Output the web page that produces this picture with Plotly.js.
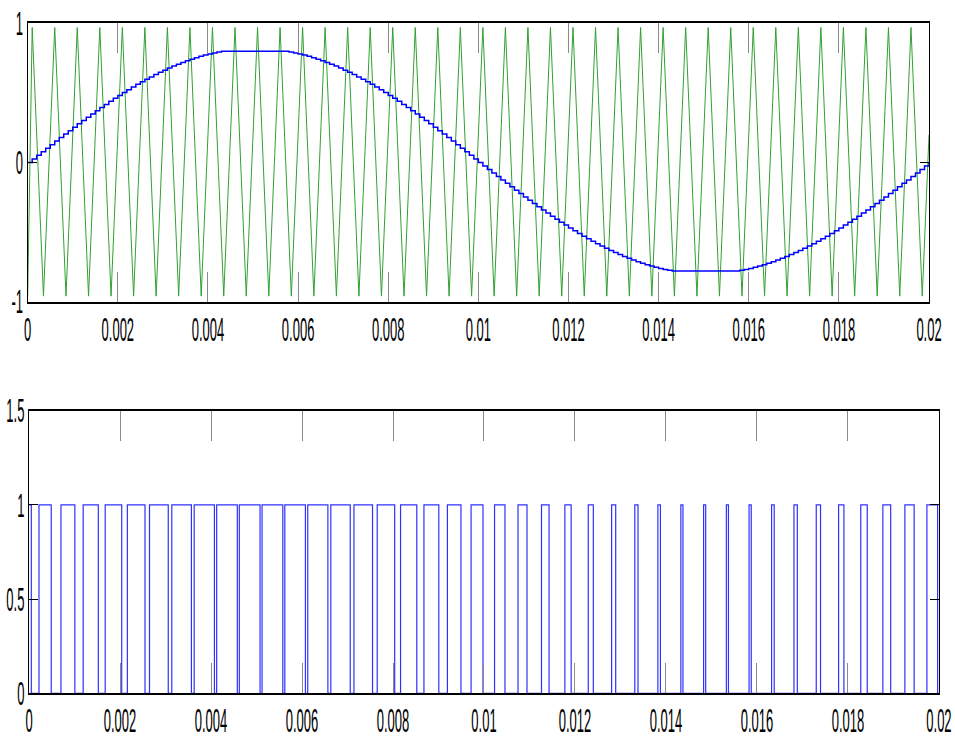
<!DOCTYPE html>
<html>
<head>
<meta charset="utf-8">
<script src="https://cdn.plot.ly/plotly-3.0.1.min.js"></script>
<style>
html,body{margin:0;padding:0;background:#fff;}
#chart{width:955px;height:742px;}
</style>
</head>
<body>
<div id="chart"></div>
<script>
// ---------- data ----------
// modulating (sampled, zero-order-hold) signal, one value per sample step
const sampleStep = 0.0001;
const modY = [
 0, 0.0258, 0.0515, 0.0772, 0.1028, 0.1283, 0.1537, 0.1789, 0.2039, 0.2288,
 0.2534, 0.2778, 0.3019, 0.3257, 0.3491, 0.3723, 0.3950, 0.4174, 0.4394, 0.4609,
 0.4820, 0.5026, 0.5227, 0.5423, 0.5613, 0.5798, 0.5978, 0.6151, 0.6318, 0.6479,
 0.6634, 0.6782, 0.6924, 0.7058, 0.7186, 0.7306, 0.7420, 0.7526, 0.7624, 0.7715,
 0.7799, 0.7874, 0.7942, 0.80, 0.80, 0.80, 0.80, 0.80, 0.80, 0.80,
 0.80, 0.80, 0.80, 0.80, 0.80, 0.80, 0.80, 0.80, 0.7942, 0.7874,
 0.7799, 0.7715, 0.7624, 0.7526, 0.7420, 0.7306, 0.7186, 0.7058, 0.6924, 0.6782,
 0.6634, 0.6479, 0.6318, 0.6151, 0.5978, 0.5798, 0.5613, 0.5423, 0.5227, 0.5026,
 0.4820, 0.4609, 0.4394, 0.4174, 0.3950, 0.3723, 0.3491, 0.3257, 0.3019, 0.2778,
 0.2534, 0.2288, 0.2039, 0.1789, 0.1537, 0.1283, 0.1028, 0.0772, 0.0515, 0.0258,
 0, -0.0251, -0.0502, -0.0753, -0.1003, -0.1251, -0.1499, -0.1745, -0.1990, -0.2232,
 -0.2472, -0.2710, -0.2945, -0.3177, -0.3406, -0.3632, -0.3854, -0.4072, -0.4287, -0.4497,
 -0.4702, -0.4903, -0.5099, -0.5290, -0.5476, -0.5657, -0.5832, -0.6001, -0.6164, -0.6321,
 -0.6472, -0.6617, -0.6755, -0.6886, -0.7010, -0.7128, -0.7239, -0.7342, -0.7438, -0.7527,
 -0.7608, -0.7682, -0.7749, -0.78, -0.78, -0.78, -0.78, -0.78, -0.78, -0.78,
 -0.78, -0.78, -0.78, -0.78, -0.78, -0.78, -0.78, -0.78, -0.7749, -0.7682,
 -0.7608, -0.7527, -0.7438, -0.7342, -0.7239, -0.7128, -0.7010, -0.6886, -0.6755, -0.6617,
 -0.6472, -0.6321, -0.6164, -0.6001, -0.5832, -0.5657, -0.5476, -0.5290, -0.5099, -0.4903,
 -0.4702, -0.4497, -0.4287, -0.4072, -0.3854, -0.3632, -0.3406, -0.3177, -0.2945, -0.2710,
 -0.2472, -0.2232, -0.1990, -0.1745, -0.1499, -0.1251, -0.1003, -0.0753, -0.0502, -0.0251,
 0
];

// triangular carrier: vertex times and values
const carrierT = [
 0, 0.0001, 0.00035, 0.0006, 0.00085, 0.0011, 0.00135, 0.0016, 0.00185, 0.0021, 0.00235,
 0.0026, 0.00285, 0.0031, 0.00335, 0.0036, 0.00385, 0.0041, 0.00435, 0.0046, 0.00485,
 0.0051, 0.00535, 0.0056, 0.00585, 0.0061, 0.00635, 0.0066, 0.00685, 0.0071, 0.00735,
 0.0076, 0.00785, 0.0081, 0.00835, 0.0086, 0.00885, 0.0091, 0.00935, 0.0096, 0.00985,
 0.0101, 0.01035, 0.0106, 0.01085, 0.0111, 0.01135, 0.0116, 0.01185, 0.0121, 0.01235,
 0.0126, 0.01285, 0.0131, 0.01335, 0.0136, 0.01385, 0.0141, 0.01435, 0.0146, 0.01485,
 0.0151, 0.01535, 0.0156, 0.01585, 0.0161, 0.01635, 0.0166, 0.01685, 0.0171, 0.01735,
 0.0176, 0.01785, 0.0181, 0.01835, 0.0186, 0.01885, 0.0191, 0.01935, 0.0196, 0.01985,
 0.02
];
const carrierY = [
 -0.96, 0.97, -0.96, 0.97, -0.96, 0.97, -0.96, 0.97, -0.96, 0.97, -0.96,
 0.97, -0.96, 0.97, -0.96, 0.97, -0.96, 0.97, -0.96, 0.97, -0.96,
 0.97, -0.96, 0.97, -0.96, 0.97, -0.96, 0.97, -0.96, 0.97, -0.96,
 0.97, -0.96, 0.97, -0.96, 0.97, -0.96, 0.97, -0.96, 0.97, -0.96,
 0.97, -0.96, 0.97, -0.96, 0.97, -0.96, 0.97, -0.96, 0.97, -0.96,
 0.97, -0.96, 0.97, -0.96, 0.97, -0.96, 0.97, -0.96, 0.97, -0.96,
 0.97, -0.96, 0.97, -0.96, 0.97, -0.96, 0.97, -0.96, 0.97, -0.96,
 0.97, -0.96, 0.97, -0.96, 0.97, -0.96, 0.97, -0.96, 0.97, -0.96,
 0.2
];

// PWM output: switching instants and levels
const pwmT = [
 0, 0.00005,
 0.000219, 0.000488, 0.000702, 0.001007, 0.001190, 0.001523, 0.001674, 0.002037,
 0.002161, 0.002549, 0.002648, 0.003060, 0.003138, 0.003569, 0.003630, 0.004075,
 0.004124, 0.004578, 0.004622, 0.005078, 0.005122, 0.005578, 0.005622, 0.006075,
 0.006126, 0.006569, 0.006633, 0.007060, 0.007142, 0.007550, 0.007653, 0.008037,
 0.008166, 0.008523, 0.008680, 0.009007, 0.009196, 0.009494, 0.009716, 0.009978,
 0.010232, 0.010461, 0.010748, 0.010945, 0.011264, 0.011430, 0.011778, 0.011916,
 0.012292, 0.012403, 0.012805, 0.012895, 0.013315, 0.013385, 0.013822, 0.013878,
 0.014327, 0.014373, 0.014827, 0.014873, 0.015327, 0.015373, 0.015826, 0.015874,
 0.016321, 0.016379, 0.016813, 0.016887, 0.017303, 0.017397, 0.017794, 0.017911,
 0.018281, 0.018424, 0.018767, 0.018939, 0.019251, 0.019455, 0.019735, 0.019971,
 0.02
];
const pwmY = [
 1, 0,
 1, 0, 1, 0, 1, 0, 1, 0,
 1, 0, 1, 0, 1, 0, 1, 0,
 1, 0, 1, 0, 1, 0, 1, 0,
 1, 0, 1, 0, 1, 0, 1, 0,
 1, 0, 1, 0, 1, 0, 1, 0,
 1, 0, 1, 0, 1, 0, 1, 0,
 1, 0, 1, 0, 1, 0, 1, 0,
 1, 0, 1, 0, 1, 0, 1, 0,
 1, 0, 1, 0, 1, 0, 1, 0,
 1, 0, 1, 0, 1, 0, 1, 0,
 0
];

// ticks
const xTickVals   = [0, 0.002, 0.004, 0.006, 0.008, 0.01, 0.012, 0.014, 0.016, 0.018, 0.02];
const xTickLabels = ['0', '0.002', '0.004', '0.006', '0.008', '0.01', '0.012', '0.014', '0.016', '0.018', '0.02'];
const topYTickVals   = [-1, 0, 1];
const topYTickLabels = ['-1', '0', '1'];
const botYTickVals   = [0, 0.5, 1, 1.5];
const botYTickLabels = ['0', '0.5', '1', '1.5'];

// ---------- chart ----------
const FONT = 'Liberation Sans Narrow, Liberation Sans, Arial, sans-serif';
const tickFont = {family: FONT, size: 13, color: '#000'};

const traces = [
  {x: carrierT, y: carrierY, xaxis: 'x', yaxis: 'y', type: 'scatter', mode: 'lines',
   line: {color: 'rgb(50,160,50)', width: 1}, hoverinfo: 'skip'},
  {y: modY, x0: 0, dx: sampleStep, xaxis: 'x', yaxis: 'y', type: 'scatter', mode: 'lines',
   line: {color: '#0000ff', width: 1.5, shape: 'hv'}, hoverinfo: 'skip'},
  {x: pwmT, y: pwmY, xaxis: 'x2', yaxis: 'y2', type: 'scatter', mode: 'lines',
   line: {color: '#3030ff', width: 1.2, shape: 'hv'}, hoverinfo: 'skip'}
];

function xAxis(domain, anchor, standoff) {
  return {domain: domain, anchor: anchor, range: [0, 0.02], tickmode: 'array',
    tickvals: xTickVals, ticktext: xTickLabels, ticks: 'inside', ticklen: 30,
    tickcolor: '#8a8a8a', tickwidth: 1, showline: true, linecolor: '#000', linewidth: 2,
    mirror: 'allticks', showgrid: false, zeroline: false, tickfont: tickFont,
    ticklabelstandoff: standoff, fixedrange: true};
}
function yAxis(domain, anchor, range, vals, labels) {
  return {domain: domain, anchor: anchor, range: range, tickmode: 'array',
    tickvals: vals, ticktext: labels, ticks: 'inside', ticklen: 9,
    tickcolor: '#000', tickwidth: 1, showline: true, linecolor: '#000', linewidth: 1,
    mirror: 'allticks', showgrid: false, zeroline: false, tickfont: tickFont,
    ticklabelstandoff: 1, fixedrange: true};
}

const layout = {
  width: 955, height: 742,
  margin: {l: 0, r: 0, t: 0, b: 0},
  paper_bgcolor: '#fff', plot_bgcolor: '#fff',
  showlegend: false,
  font: tickFont,
  xaxis: xAxis([0.0290, 0.9728], 'y', 15),
  yaxis: yAxis([0.5934, 0.9686], 'x', [-1, 1], topYTickVals, topYTickLabels),
  xaxis2: xAxis([0.0304, 0.9832], 'y2', 14),
  yaxis2: yAxis([0.0656, 0.4465], 'x2', [0, 1.5], botYTickVals, botYTickLabels)
};

// tall, narrow tick lettering like the original
function stretchLabels(gd) {
  const s = 2.6;
  gd.querySelectorAll('.xtick text, .x2tick text, .ytick text, .y2tick text').forEach(el => {
    if (el.getAttribute('data-st')) return;
    const bb = el.getBBox();
    const cx = bb.x + bb.width / 2;
    const cy = bb.y + bb.height / 2;
    const t = el.getAttribute('transform') || '';
    el.setAttribute('transform', t + ' translate(' + cx + ',' + cy + ') scale(1,' + s + ') translate(' + (-cx) + ',' + (-cy) + ')');
    el.setAttribute('data-st', '1');
  });
}

Plotly.newPlot('chart', traces, layout, {staticPlot: true, displayModeBar: false})
  .then(gd => stretchLabels(gd));
</script>
</body>
</html>
